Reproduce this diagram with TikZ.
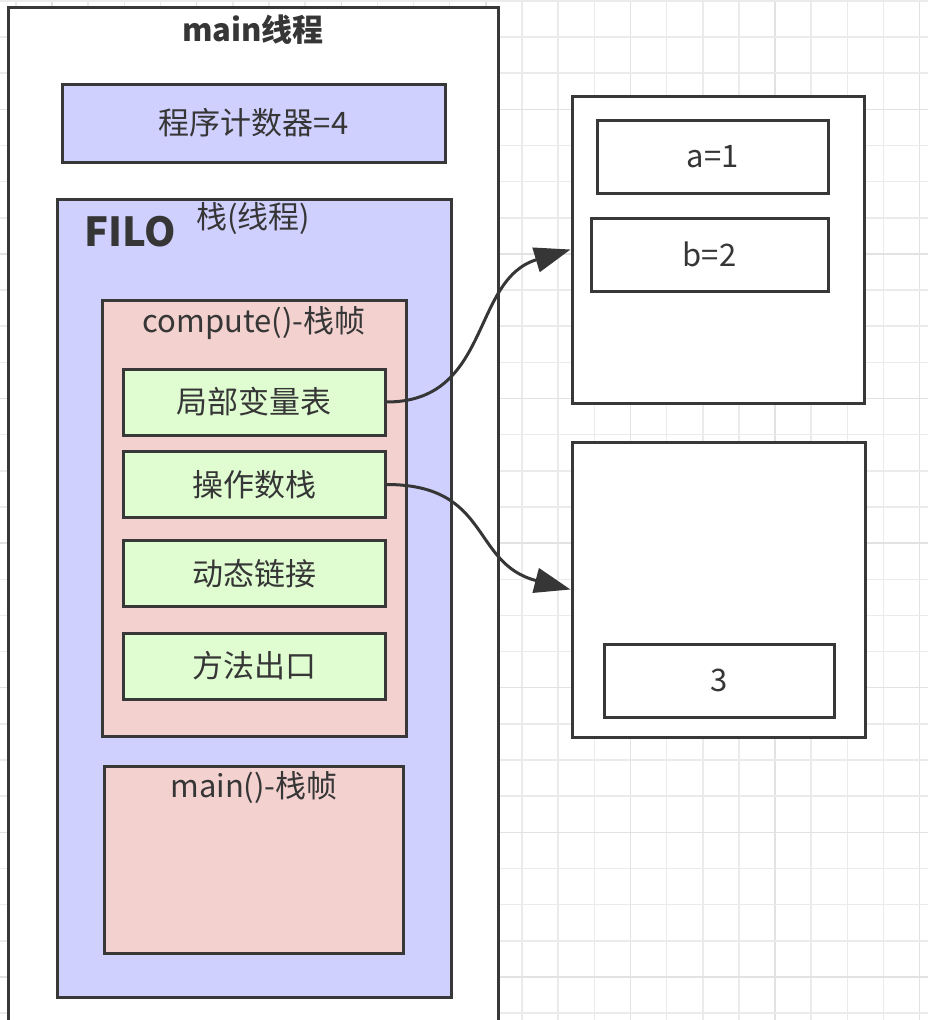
\documentclass[tikz,border=0pt]{standalone}
\usepackage{fontspec}
\setmainfont{Noto Sans CJK SC}
\usetikzlibrary{arrows.meta}
\definecolor{ink}{HTML}{363636}
\definecolor{edge}{HTML}{383838}
\definecolor{lav}{HTML}{D0D0FF}
\definecolor{pinkf}{HTML}{F2D1CF}
\definecolor{greenf}{HTML}{E0FDD2}
\definecolor{gridminor}{HTML}{EBEBEB}
\definecolor{gridmajor}{HTML}{E2E2E2}
\begin{document}
\begin{tikzpicture}[x=1pt,y=-1pt,
  box/.style={draw=edge, line width=3pt, inner sep=0pt, text=ink, font=\fontsize{31}{36}\selectfont},
  lbl/.style={inner sep=0pt, text=ink, font=\fontsize{31}{36}\selectfont},
  conn/.style={draw=ink, line width=3pt, -{Triangle[length=36pt,width=25pt]}}]
\useasboundingbox (0,0) rectangle (928,1020);
\clip (0,0) rectangle (928,1020);
\fill[white] (0,0) rectangle (928,1020);
% grid
\foreach \k in {0,...,25} {
  \pgfmathsetmacro{\xx}{15.9+36.15*\k}
  \pgfmathtruncatemacro{\m}{mod(\k,4)}
  \ifnum\m=1 \draw[gridmajor, line width=1.5pt] (\xx,0) -- (\xx,1020);
  \else \draw[gridminor, line width=1.5pt] (\xx,0) -- (\xx,1020); \fi
}
\foreach \k in {0,...,28} {
  \pgfmathsetmacro{\yy}{0.85+36.15*\k}
  \pgfmathtruncatemacro{\m}{mod(\k,4)}
  \ifnum\m=3 \draw[gridmajor, line width=1.5pt] (0,\yy) -- (928,\yy);
  \else \draw[gridminor, line width=1.5pt] (0,\yy) -- (928,\yy); \fi
}
% main thread
\node[box, fill=white, minimum width=490, minimum height=1040] (main) at (253,527) {};
\node[lbl, font=\fontsize{31}{36}\selectfont\bfseries] (maintitle) at (253,30) {main线程};
% program counter
\node[box, fill=lav, minimum width=383, minimum height=78] (pc) at (253.5,123) {程序计数器=4};
% stack
\node[box, fill=lav, minimum width=394, minimum height=798] (stack) at (254,598) {};
\node[lbl, font=\fontsize{40}{44}\selectfont\bfseries] (filo) at (130,232) {FILO};
\node[lbl] (stacklbl) at (253,218) {栈(线程)};
% compute frame
\node[box, fill=pinkf, minimum width=304, minimum height=436] (compute) at (254,518) {};
\node[lbl] (computelbl) at (254,323) {compute()-栈帧};
\node[box, fill=greenf, minimum width=262, minimum height=66] (lv) at (254,402) {局部变量表};
\node[box, fill=greenf, minimum width=262, minimum height=66] (os) at (254,484.5) {操作数栈};
\node[box, fill=greenf, minimum width=262, minimum height=66] (dl) at (254,573.5) {动态链接};
\node[box, fill=greenf, minimum width=262, minimum height=66] (me) at (254,666) {方法出口};
% main frame
\node[box, fill=pinkf, minimum width=299, minimum height=187] (mainframe) at (253.5,859.5) {};
\node[lbl] (mainframelbl) at (254,788) {main()-栈帧};
% right boxes
\node[box, fill=white, minimum width=292, minimum height=307] (heap1) at (718,249.5) {};
\node[box, fill=white, minimum width=231, minimum height=73] (va) at (712.5,156.5) {a=1};
\node[box, fill=white, minimum width=237, minimum height=73] (vb) at (709.5,254.5) {b=2};
\node[box, fill=white, minimum width=293, minimum height=295] (heap2) at (718.5,589.5) {};
\node[box, fill=white, minimum width=230, minimum height=73] (vthree) at (719,680.5) {3};
% connectors
\draw[conn] (lv.east) .. controls +(105,0) and +(-100,30) .. (heap1.west);
\draw[conn] (os.east) .. controls +(105,0) and +(-100,-26) .. (heap2.west);
\end{tikzpicture}
\end{document}
